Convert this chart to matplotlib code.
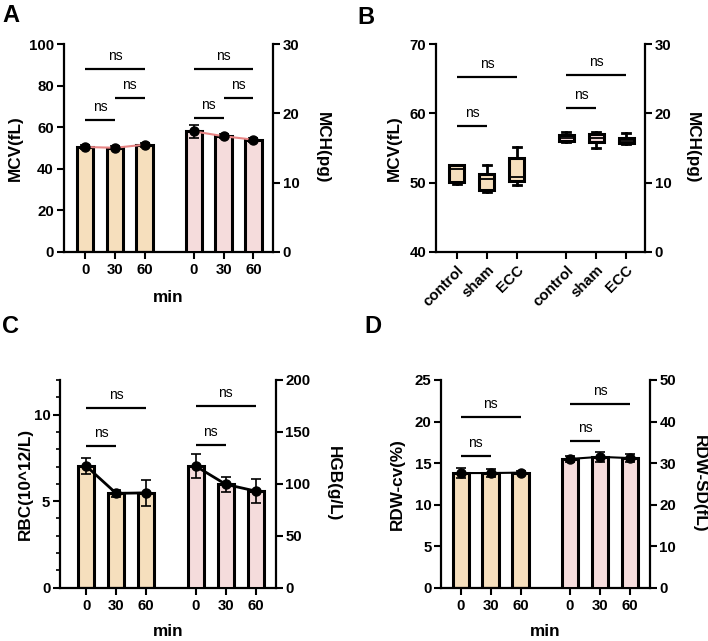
"""
血常规指标汇总图 (A-D 四个面板)
"""

import matplotlib
matplotlib.use('Agg')
import matplotlib.pyplot as plt
from matplotlib.ticker import MultipleLocator

plt.rcParams['font.family'] = ['Liberation Sans', 'DejaVu Sans']
plt.rcParams['font.weight'] = 'bold'
plt.rcParams['axes.labelweight'] = 'bold'
plt.rcParams['font.size'] = 10

# ---- data ----
time_labels = ['0', '30', '60']
group_labels = ['control', 'sham', 'ECC']

# A: MCV (fL) / MCH (pg)
mcv_mean = [50.5, 50.1, 51.6]
mcv_err = [0.8, 0.8, 0.9]
mch_mean = [17.4, 16.7, 16.2]
mch_err = [0.9, 0.3, 0.3]

# B: box plots, MCV (fL) and MCH (pg)
mcv_box_min = [49.8, 48.6, 49.6]
mcv_box_q1 = [50.1, 48.9, 50.2]
mcv_box_med = [51.9, 50.5, 50.8]
mcv_box_q3 = [52.5, 51.3, 53.5]
mcv_box_max = [52.5, 52.6, 55.2]
mch_box_min = [15.8, 15.0, 15.6]
mch_box_q1 = [16.0, 15.8, 15.7]
mch_box_med = [16.5, 16.4, 16.0]
mch_box_q3 = [16.9, 17.0, 16.4]
mch_box_max = [17.3, 17.3, 17.1]

# C: RBC (10^12/L) / HGB (g/L)
rbc_mean = [7.03, 5.45, 5.48]
rbc_err = [0.44, 0.22, 0.77]
hgb_mean = [117.0, 99.5, 93.0]
hgb_err = [11.7, 7.2, 11.2]

# D: RDW-cv (%) / RDW-SD (fL)
rdwcv_mean = [13.8, 13.8, 13.85]
rdwcv_err = [0.65, 0.5, 0.15]
rdwsd_mean = [31.0, 31.5, 31.2]
rdwsd_err = [0.8, 1.2, 0.9]

# significance lines: (from, to, height in left-axis units)
sig_a = [(0, 2, 88), (1, 2, 74), (0, 1, 63.5), (3, 5, 88), (4, 5, 74), (3, 4, 64.5)]
sig_b = [(0, 2, 65.3), (0, 1, 58.2), (3, 5, 65.5), (3, 4, 60.7)]
sig_c = [(0, 2, 10.4), (0, 1, 8.18), (3, 5, 10.5), (3, 4, 8.27)]
sig_d = [(0, 2, 20.5), (0, 1, 15.8), (3, 5, 22.1), (3, 4, 17.6)]

WHEAT = '#F6DFBD'
PINK = '#F5DCDC'
GAP = 3.65
POS = [0, 1, 2, GAP, GAP + 1, GAP + 2]
W, H = 708, 641


def px_axes(fig, left, right, top, bottom):
    """像素坐标 -> figure 坐标"""
    return fig.add_axes([left / W, 1 - bottom / H, (right - left) / W, (bottom - top) / H])


def style_axes(ax, ax2):
    for a in (ax, ax2):
        a.tick_params(width=1.5, length=5, labelsize=10.8, pad=2)
        a.set_facecolor('none')
    ax.spines['top'].set_visible(False)
    ax.spines['right'].set_visible(False)
    ax.spines['left'].set_linewidth(1.6)
    ax.spines['bottom'].set_linewidth(1.6)
    for s in ('top', 'left', 'bottom'):
        ax2.spines[s].set_visible(False)
    ax2.spines['right'].set_linewidth(1.6)
    ax.tick_params(axis='x', pad=3)


def draw_sig(ax, sigs):
    for i, j, y in sigs:
        ax.plot([POS[i], POS[j]], [y, y], color='black', lw=1.6, solid_capstyle='butt')
        ax.annotate('ns', xy=((POS[i] + POS[j]) / 2, y), xytext=(0, 6.5),
                    textcoords='offset points', ha='center', va='baseline',
                    fontsize=10, fontweight='normal')


def bar_panel(ax, ax2, left_mean, left_err, right_mean, right_err, line_color, line_w):
    ax.bar(POS[:3], left_mean, width=0.55, color=WHEAT, edgecolor='black', linewidth=2.2, zorder=2)
    ax.errorbar(POS[:3], left_mean, yerr=left_err, fmt='none', ecolor='black',
                elinewidth=1.2, capsize=3.5, capthick=1.2, zorder=3)
    ax.plot(POS[:3], left_mean, color=line_color, lw=line_w, zorder=4)
    ax.plot(POS[:3], left_mean, 'o', color='black', markersize=6.5, zorder=5)

    ax2.bar(POS[3:], right_mean, width=0.55, color=PINK, edgecolor='black', linewidth=2.2, zorder=2)
    ax2.errorbar(POS[3:], right_mean, yerr=right_err, fmt='none', ecolor='black',
                 elinewidth=1.2, capsize=3.5, capthick=1.2, zorder=3)
    ax2.plot(POS[3:], right_mean, color=line_color, lw=line_w, zorder=4)
    ax2.plot(POS[3:], right_mean, 'o', color='black', markersize=6.5, zorder=5)

    ax.set_xticks(POS)
    ax.set_xticklabels(time_labels * 2)


def set_labels(ax, ax2, left, right, lx, rx, xlabel=None, xly=None):
    ax.set_ylabel(left, fontsize=12.3, va='center', ha='center')
    ax.yaxis.set_label_coords(lx, 0.5)
    ax2.set_ylabel(right, fontsize=12.3, rotation=270, va='center', ha='center')
    ax2.yaxis.set_label_coords(rx, 0.5)
    if xlabel:
        ax.set_xlabel(xlabel, fontsize=12.3, va='center')
        ax.xaxis.set_label_coords(0.5, xly)


def box_stats(mins, q1s, meds, q3s, maxs):
    return [dict(whislo=a, q1=b, med=c, q3=d, whishi=e, fliers=[])
            for a, b, c, d, e in zip(mins, q1s, meds, q3s, maxs)]


def main():
    fig = plt.figure(figsize=(W / 100, H / 100), dpi=100)

    # ---- A ----
    ax = px_axes(fig, 63.7, 273, 44, 252)
    ax2 = ax.twinx()
    bar_panel(ax, ax2, mcv_mean, mcv_err, mch_mean, mch_err, '#E88585', 1.5)
    ax.set_ylim(0, 100)
    ax.set_yticks([0, 20, 40, 60, 80, 100])
    ax2.set_ylim(0, 30)
    ax2.set_yticks([0, 10, 20, 30])
    ax.set_xlim(-0.72, POS[-1] + 0.66)
    draw_sig(ax, sig_a)
    style_axes(ax, ax2)
    set_labels(ax, ax2, 'MCV(fL)', 'MCH(pg)', -0.233, 1.234, 'min', -0.221)

    # ---- B ----
    ax = px_axes(fig, 436, 645, 44, 252)
    ax2 = ax.twinx()
    common = dict(widths=0.5, patch_artist=True, showfliers=False,
                  whiskerprops=dict(color='black', lw=2.0),
                  capprops=dict(color='black', lw=2.0),
                  medianprops=dict(color='black', lw=1.3),
                  capwidths=0.27)
    ax.bxp(box_stats(mcv_box_min, mcv_box_q1, mcv_box_med, mcv_box_q3, mcv_box_max),
           positions=POS[:3], boxprops=dict(facecolor=WHEAT, edgecolor='black', lw=2.2), **common)
    ax2.bxp(box_stats(mch_box_min, mch_box_q1, mch_box_med, mch_box_q3, mch_box_max),
            positions=POS[3:], boxprops=dict(facecolor=PINK, edgecolor='black', lw=2.2), **common)
    ax.set_ylim(40, 70)
    ax.set_yticks([40, 50, 60, 70])
    ax2.set_ylim(0, 30)
    ax2.set_yticks([0, 10, 20, 30])
    ax.set_xlim(-0.7, POS[-1] + 0.63)
    ax.set_xticks(POS)
    ax.set_xticklabels(group_labels * 2, rotation=45, ha='right', rotation_mode='anchor')
    draw_sig(ax, sig_b)
    style_axes(ax, ax2)
    set_labels(ax, ax2, 'MCV(fL)', 'MCH(pg)', -0.201, 1.225)

    # ---- C ----
    ax = px_axes(fig, 60, 275.7, 380, 587.7)
    ax2 = ax.twinx()
    bar_panel(ax, ax2, rbc_mean, rbc_err, hgb_mean, hgb_err, 'black', 2.0)
    ax.set_ylim(0, 12)
    ax.set_yticks([0, 5, 10])
    ax.yaxis.set_minor_locator(MultipleLocator(1))
    ax.tick_params(axis='y', which='minor', length=3, width=1.2)
    ax2.set_ylim(0, 200)
    ax2.set_yticks([0, 50, 100, 150, 200])
    ax.set_xlim(-0.87, POS[-1] + 0.66)
    draw_sig(ax, sig_c)
    style_axes(ax, ax2)
    set_labels(ax, ax2, 'RBC(10^12/L)', 'HGB(g/L)', -0.162, 1.266, 'min', -0.212)

    # ---- D ----
    ax = px_axes(fig, 441.3, 649.7, 380, 587.7)
    ax2 = ax.twinx()
    bar_panel(ax, ax2, rdwcv_mean, rdwcv_err, rdwsd_mean, rdwsd_err, 'black', 1.5)
    ax.set_ylim(0, 25)
    ax.set_yticks([0, 5, 10, 15, 20, 25])
    ax2.set_ylim(0, 50)
    ax2.set_yticks([0, 10, 20, 30, 40, 50])
    ax.set_xlim(-0.65, POS[-1] + 0.66)
    draw_sig(ax, sig_d)
    style_axes(ax, ax2)
    set_labels(ax, ax2, 'RDW-cv(%)', 'RDW-SD(fL)', -0.211, 1.237, 'min', -0.212)

    # panel letters
    for letter, x, y in [('A', 2, 4), ('B', 357, 6), ('C', 2, 315), ('D', 364, 315)]:
        fig.text(x / W, 1 - y / H, letter, fontsize=17, fontweight='bold', ha='left', va='top')

    fig.savefig('out.png', dpi=100)
    plt.close(fig)


if __name__ == "__main__":
    main()
